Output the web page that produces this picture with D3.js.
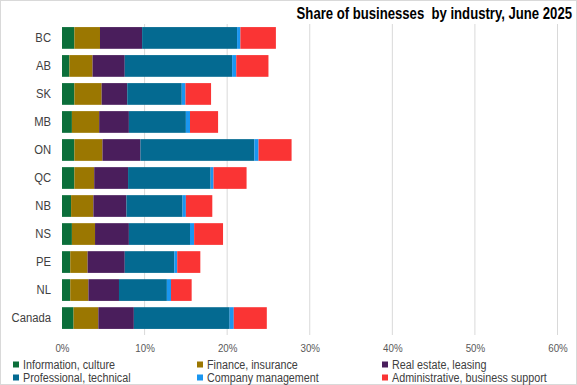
<!DOCTYPE html>
<html>
<head>
<meta charset="utf-8">
<script src="https://cdn.jsdelivr.net/npm/d3@7"></script>
<style>
  body { margin: 0; background: #fff; }
  svg { display: block; }
</style>
</head>
<body>
<svg id="chart" width="577" height="385"></svg>
<script>
// data (percent of businesses)
const regions = ["BC", "AB", "SK", "MB", "ON", "QC", "NB", "NS", "PE", "NL", "Canada"];
const industries = ["Information, culture", "Finance, insurance", "Real estate, leasing",
  "Professional, technical", "Company management", "Administrative, business support"];
const infoCulture   = [1.5, 0.9, 1.5, 1.2, 1.5, 1.5, 1.1, 1.2, 1.0, 1.0, 1.4];
const financeIns    = [3.1, 2.8, 3.3, 3.3, 3.4, 2.4, 2.7, 2.8, 2.1, 2.2, 3.0];
const realEstate    = [5.1, 3.9, 3.1, 3.6, 4.6, 4.1, 4.0, 4.1, 4.5, 3.7, 4.3];
const professional  = [11.5, 13.0, 6.6, 6.9, 13.8, 10.0, 6.8, 7.4, 6.0, 5.8, 11.6];
const companyMgmt   = [0.4, 0.5, 0.45, 0.5, 0.5, 0.35, 0.4, 0.5, 0.35, 0.5, 0.5];
const adminSupport  = [4.3, 3.9, 3.1, 3.4, 4.0, 4.0, 3.2, 3.5, 2.8, 2.5, 4.0];
const xTicks = [0, 10, 20, 30, 40, 50, 60];
const colors = ["#0b6e3a", "#9b7701", "#4a1e5c", "#046a91", "#1a96f0", "#fa3434"];

const seriesVals = [infoCulture, financeIns, realEstate, professional, companyMgmt, adminSupport];
const table = regions.map(function(r, i) {
  const row = { region: r };
  industries.forEach(function(k, j) { row[k] = seriesVals[j][i]; });
  return row;
});

const FONT = "'Liberation Sans', Arial, sans-serif";

// no narrow font installed, so squeeze the glyphs horizontally
function condense(sel, f) {
  sel.each(function() {
    const w = this.getComputedTextLength();
    d3.select(this).attr("textLength", w * f).attr("lengthAdjust", "spacingAndGlyphs");
  });
}

const svg = d3.select("#chart");
const width = 577, height = 385;
const margin = { top: 24, right: 19, bottom: 50, left: 62 };

// outer border
svg.append("rect")
  .attr("x", 0.5).attr("y", 0.5)
  .attr("width", width - 1).attr("height", height - 1)
  .attr("fill", "#fff").attr("stroke", "#d9d9d9");

const x = d3.scaleLinear()
  .domain([0, 60])
  .range([margin.left, 557.5]);

const y = d3.scaleBand()
  .domain(regions)
  .range([margin.top, 332])
  .paddingInner(0.225)
  .paddingOuter(0.11);

// gridlines
svg.append("g")
  .selectAll("line")
  .data(xTicks.slice(1))
  .enter().append("line")
  .attr("x1", d => x(d)).attr("x2", d => x(d))
  .attr("y1", margin.top).attr("y2", 335)
  .attr("stroke", "#d9d9d9")
  .attr("stroke-width", 1);

// stacked bars
const stack = d3.stack().keys(industries);
const layers = stack(table);

svg.append("g")
  .selectAll("g")
  .data(layers)
  .enter().append("g")
  .attr("fill", (d, i) => colors[i])
  .selectAll("rect")
  .data(d => d)
  .enter().append("rect")
  .attr("x", d => x(d[0]))
  .attr("y", d => y(d.data.region))
  .attr("width", d => x(d[1]) - x(d[0]))
  .attr("height", y.bandwidth());

// x axis
const xAxis = svg.append("g")
  .attr("transform", "translate(0,341)")
  .call(d3.axisBottom(x).tickValues(xTicks).tickFormat(d => d + "%").tickSize(0))
  .style("font-family", FONT)
  .style("font-size", "11.5px");
xAxis.select(".domain").remove();
xAxis.selectAll("text").attr("fill", "#595959").attr("dy", "0.71em").call(condense, 0.85);

// y axis
const yAxis = svg.append("g")
  .attr("transform", "translate(" + margin.left + ",0)")
  .call(d3.axisLeft(y).tickSize(0).tickPadding(11))
  .style("font-family", FONT)
  .style("font-size", "12.5px");
yAxis.select(".domain").remove();
yAxis.selectAll("text").attr("fill", "#404040").call(condense, 0.9);

// title
svg.append("text")
  .attr("x", 572)
  .attr("y", 19)
  .attr("text-anchor", "end")
  .style("font-family", FONT)
  .style("font-weight", "bold")
  .style("font-size", "16px")
  .attr("fill", "#000")
  .attr("xml:space", "preserve")
  .text("Share of businesses  by industry, June 2025")
  .call(condense, 0.82);

// legend
const legCols = [13, 197, 382];
const legRows = [364.5, 377.5];
const legend = svg.append("g")
  .selectAll("g")
  .data(industries)
  .enter().append("g")
  .attr("transform", (d, i) => "translate(" + legCols[i % 3] + "," + legRows[Math.floor(i / 3)] + ")");

legend.append("rect")
  .attr("x", 0).attr("y", -3)
  .attr("width", 6).attr("height", 6)
  .attr("fill", (d, i) => colors[i]);

legend.append("text")
  .attr("x", 10)
  .attr("dy", "0.35em")
  .style("font-family", FONT)
  .style("font-size", "12.5px")
  .attr("fill", "#404040")
  .text(d => d)
  .call(condense, 0.86);
</script>
</body>
</html>
